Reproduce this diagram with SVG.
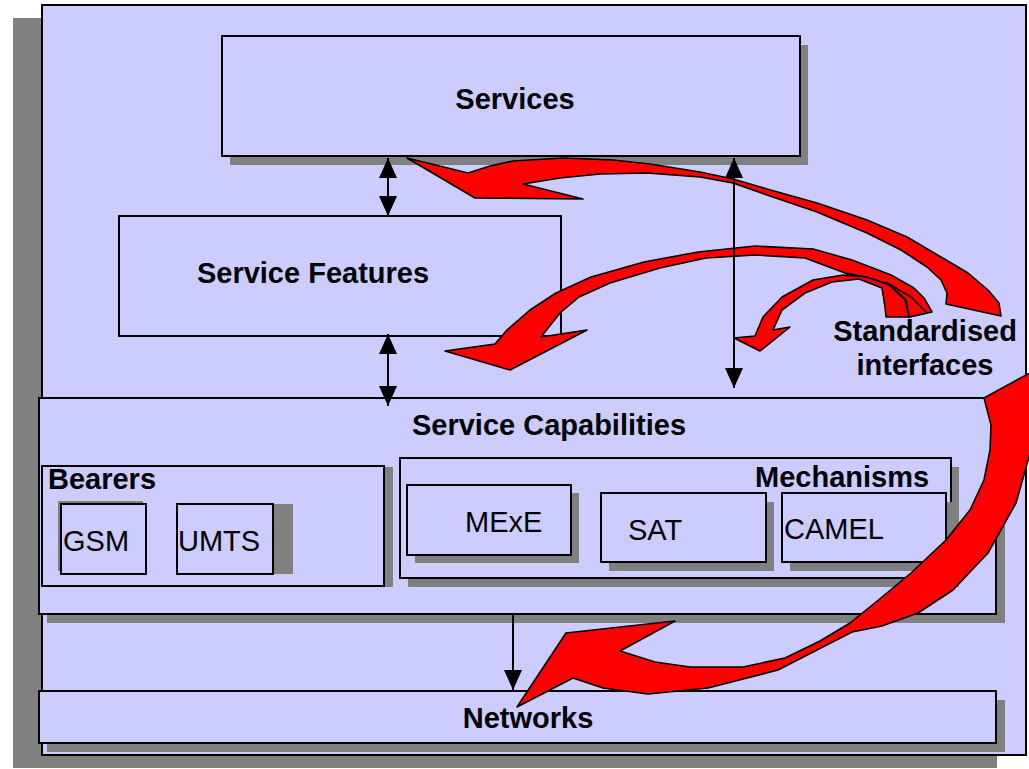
<svg xmlns="http://www.w3.org/2000/svg" width="1029" height="769" viewBox="0 0 1029 769">
  <defs>
    <style>
      .box { fill: #CCCCFF; stroke: #000; stroke-width: 2; }
      .shadow { fill: #808080; stroke: none; }
      .red { fill: #FF0000; stroke: #000; stroke-width: 1.6; stroke-linejoin: round; }
      .link { fill: none; stroke: #000; stroke-width: 2; }
      .lbl { font-family: "Liberation Sans", Arial, sans-serif; font-size: 29px; fill: #000; }
      .b { font-weight: bold; }
    </style>
    <marker id="head" viewBox="0 0 20 18" refX="20" refY="9" markerWidth="20" markerHeight="18" markerUnits="userSpaceOnUse" orient="auto-start-reverse">
      <path d="M0,0 L20,9 L0,18 Z" fill="#000"/>
    </marker>
  </defs>

  <!-- outer frame -->
  <g id="frame">
    <rect class="shadow" x="13" y="18" width="984" height="750"/>
    <rect class="box" x="42" y="5" width="984" height="750"/>
  </g>

  <g id="services">
    <rect class="shadow" x="230" y="45" width="578" height="120"/>
    <rect class="box" x="222" y="36" width="578" height="120"/>
    <text class="lbl b" x="515" y="109" text-anchor="middle">Services</text>
  </g>

  <g id="service-features">
    <rect class="box" x="119" y="216" width="442" height="120"/>
    <text class="lbl b" x="313" y="283" text-anchor="middle">Service Features</text>
  </g>

  <g id="service-capabilities">
    <rect class="shadow" x="47" y="407" width="958" height="216"/>
    <rect class="box" x="39" y="398" width="957" height="216"/>
    <text class="lbl b" x="549" y="435" text-anchor="middle">Service Capabilities</text>
  </g>

  <g id="bearers">
    <rect class="shadow" x="51" y="467" width="342" height="120"/>
    <rect class="box" x="42" y="466" width="342" height="120"/>
    <text class="lbl b" x="48" y="489">Bearers</text>
  </g>

  <g id="gsm">
    <rect class="shadow" x="58" y="501" width="85" height="70"/>
    <rect class="box" x="61" y="504" width="85" height="70"/>
    <text class="lbl" x="63" y="551">GSM</text>
  </g>

  <g id="umts">
    <rect class="shadow" x="197" y="504" width="96" height="70"/>
    <rect class="box" x="177" y="504" width="96" height="70"/>
    <text class="lbl" x="178" y="551">UMTS</text>
  </g>

  <g id="mechanisms">
    <rect class="shadow" x="408" y="467" width="551" height="120"/>
    <rect class="box" x="400" y="458" width="551" height="120"/>
    <text class="lbl b" x="755" y="487">Mechanisms</text>
  </g>

  <g id="mexe">
    <rect class="shadow" x="415" y="493" width="164" height="70"/>
    <rect class="box" x="407" y="485" width="164" height="70"/>
    <text class="lbl" x="465" y="532">MExE</text>
  </g>

  <g id="sat">
    <rect class="shadow" x="609" y="502" width="165" height="69"/>
    <rect class="box" x="601" y="493" width="165" height="69"/>
    <text class="lbl" x="628" y="540">SAT</text>
  </g>

  <g id="camel">
    <rect class="shadow" x="790" y="502" width="164" height="69"/>
    <rect class="box" x="782" y="493" width="164" height="69"/>
    <text class="lbl" x="784" y="539">CAMEL</text>
  </g>

  <g id="networks">
    <rect class="shadow" x="47" y="700" width="958" height="52"/>
    <rect class="box" x="39" y="691" width="957" height="52"/>
    <text class="lbl b" x="528" y="728" text-anchor="middle">Networks</text>
  </g>

  <!-- curved block arrows from the standardised interfaces -->
  <g id="interface-arrows">
    <path class="red" d="M407,158 L468,173 L490,166 L513,161 L563,158 L613,160 L650,164 L700,172 L733,179 L767,189 L817,203 L867,220 L907,237 L941,257 L968,273 L988,290 L999,303 L1001,316 L946,304 L947,293 L941,280 L927,267 L901,250 L867,233 L817,212 L767,195 L733,183 L700,177 L647,173 L600,174 L560,178 L523,184 L583,199 L475,198 Z"/>
    <path class="red" d="M445,351 L495,344 L507,330 L530,310 L556,293 L591,277 L644,262 L698,252 L755,246 L813,249 L852,260 L891,275 L914,288 L924,298 L932,312 L909,317 L906,300 L890,285 L866,277 L845,273 L805,258 L755,255 L706,258 L660,268 L610,283 L579,297 L560,313 L541,337 L587,330 L510,370 Z"/>
    <path class="red" d="M909,317 L927,313 L922,308 L911,297 L887,283 L847,275 L866,277 L890,285 L906,300 Z"/>
    <path class="red" d="M734,338 L755,336 L763,317 L782,297 L813,280 L843,275 L866,277 L889,285 L905,300 L909,317 L886,317 L885,307 L882,288 L859,279 L832,282 L805,293 L782,310 L773,330 L790,327 L760,351 Z"/>
    <path class="red" d="M517,707 L566,633 L675,621 L620,651 L655,662 L690,667 L743,667 L785,658 L820,641 L850,623 L876,602 L911,573 L946,540 L970,510 L984,480 L990,450 L991,425 L984,398 L1035,370 L1035,440 L1029,457 L1016,503 L988,553 L953,590 L918,613 L882,626 L852,632 L815,651 L778,670 L708,688 L648,694 L603,688 L573,678 Z"/>
  </g>

  <!-- layer connectors -->
  <g id="connectors">
    <line class="link" x1="388" y1="158" x2="388" y2="216" marker-start="url(#head)" marker-end="url(#head)"/>
    <line class="link" x1="388" y1="334" x2="388" y2="406" marker-start="url(#head)" marker-end="url(#head)"/>
    <line class="link" x1="734" y1="158" x2="734" y2="388" marker-start="url(#head)" marker-end="url(#head)"/>
    <line class="link" x1="513" y1="614" x2="513" y2="690" marker-end="url(#head)"/>
  </g>

  <g id="label">
    <text class="lbl b" x="925" y="341" text-anchor="middle">Standardised</text>
    <text class="lbl b" x="925" y="375" text-anchor="middle">interfaces</text>
  </g>
</svg>
